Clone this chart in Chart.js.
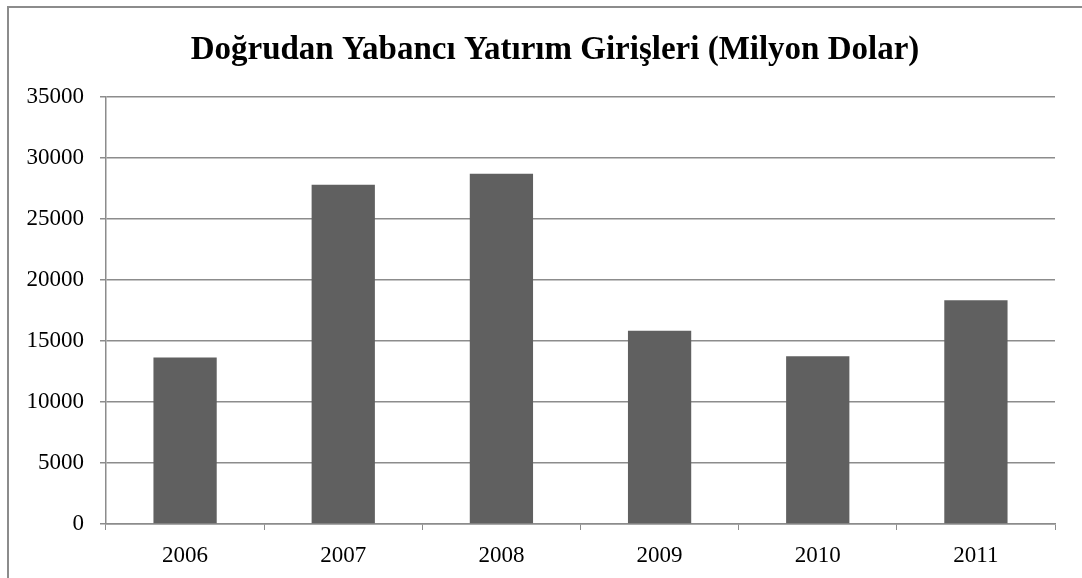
<!DOCTYPE html>
<html>
<head>
<meta charset="utf-8">
<script src="https://cdn.jsdelivr.net/npm/chart.js@4/dist/chart.umd.min.js"></script>
<style>
    html, body { margin: 0; padding: 0; background: #fff; overflow: hidden; }
    .frame {
        position: absolute; left: 7px; top: 6px; width: 2000px; height: 2000px;
        border-left: 2px solid #8c8c8c; border-top: 2px solid #8c8c8c;
    }
    #chart { position: absolute; left: 0; top: 0; }
</style>
</head>
<body>
<div class="frame"></div>
<canvas id="chart" width="1082" height="578"></canvas>
<script>
// Data
const years = ['2006', '2007', '2008', '2009', '2010', '2011'];
const inflows = [13650, 27800, 28700, 15850, 13750, 18350];

const titleText = 'Doğrudan Yabancı Yatırım Girişleri (Milyon Dolar)';
const yMax = 35000;
const yStep = 5000;

const gridColor = '#8c8c8c';
const fontFamily = '"Liberation Serif", "Times New Roman", serif';

// the original title sits a bit right of the canvas centre
const shiftTitle = {
    id: 'shiftTitle',
    afterLayout(chart) {
        if (chart.titleBlock) chart.titleBlock.left = 55;
    }
};

const ctx = document.getElementById('chart').getContext('2d');
new Chart(ctx, {
    type: 'bar',
    data: {
        labels: years,
        datasets: [{
            data: inflows,
            backgroundColor: '#606060',
            borderWidth: 0,
            barPercentage: 0.4,
            categoryPercentage: 1,
        }],
    },
    options: {
        responsive: false,
        animation: false,
        layout: { padding: { left: 0, right: 27, top: 0, bottom: 0 } },
        plugins: {
            legend: { display: false },
            tooltip: { enabled: false },
            title: {
                display: true,
                text: titleText,
                color: '#000',
                font: { family: fontFamily, size: 33, weight: 'bold', lineHeight: 1.2 },
                padding: { top: 31, bottom: 26.4 },
            }
        },
        scales: {
            x: {
                grid: {
                    display: true,
                    offset: true,
                    drawOnChartArea: false,
                    drawTicks: true,
                    tickLength: 6,
                    color: gridColor,
                },
                border: { display: true, color: gridColor, width: 1.5 },
                ticks: {
                    color: '#000',
                    font: { family: fontFamily, size: 23 },
                    padding: 12,
                    maxRotation: 0,
                },
                afterFit: (scale) => { scale.height = 54; },
            },
            y: {
                min: 0,
                max: yMax,
                grid: {
                    color: gridColor,
                    lineWidth: 1.5,
                    tickLength: 6,
                },
                border: { display: true, color: gridColor, width: 1.5 },
                ticks: {
                    stepSize: yStep,
                    color: '#000',
                    font: { family: fontFamily, size: 23 },
                    padding: 16,
                    callback: (value) => String(value),
                },
                afterFit: (scale) => { scale.width = 106; },
            },
        },
    },
    plugins: [shiftTitle],
});
</script>
</body>
</html>
